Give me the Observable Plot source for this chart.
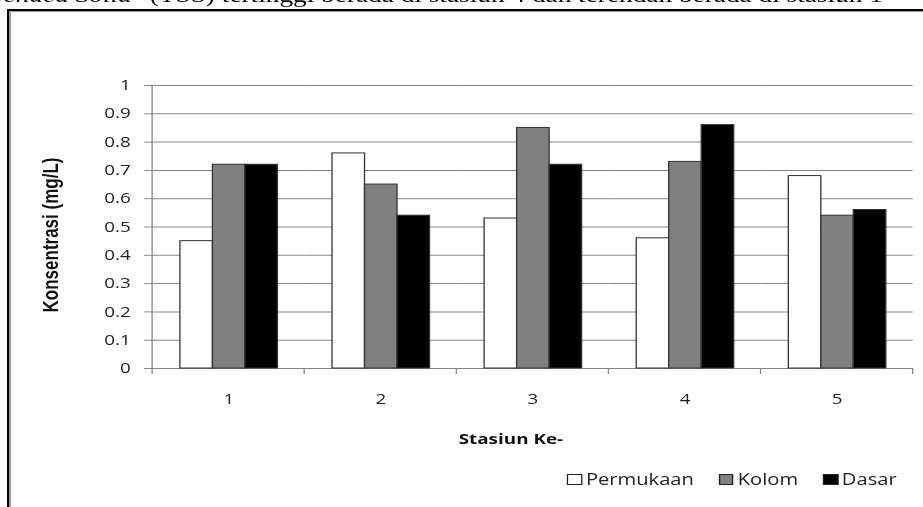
<!DOCTYPE html>
<html>
<head>
<meta charset="utf-8">
<script src="https://cdn.jsdelivr.net/npm/d3@7"></script>
<script src="https://cdn.jsdelivr.net/npm/@observablehq/plot@0.6"></script>
<style>
  html, body { margin: 0; padding: 0; background: #fff; }
  body { width: 923px; height: 507px; overflow: hidden; position: relative; }
  #stage { position: absolute; left: 0; top: 0; width: 710px; height: 507px;
           transform: scaleX(1.3); transform-origin: 0 0; }
  #doc { position: absolute; top: -15px; left: 0; white-space: nowrap;
         font: 21px/21px "Liberation Serif", serif; color: #000; }
  #chart { position: absolute; left: 0; top: 0; }
  #ylabel { position: absolute; left: 38.5px; top: 235px; white-space: nowrap;
            font: bold 17px/17px "Liberation Sans", sans-serif;
            color: #111; transform: translate(-50%, -50%) rotate(-90deg); }
  #xtitle { position: absolute; left: 393px; top: 432px; white-space: nowrap;
            font: bold 14.5px/14.5px "Open Sans", sans-serif; color: #111;
            transform: translateX(-50%); }
  #legend { position: absolute; left: 436.2px; top: 472px; display: flex; align-items: center;
            font: 15.5px/15.5px "Open Sans", sans-serif; color: #222; white-space: nowrap; }
  .item { display: flex; align-items: center; margin-right: 19.2px; }
  .item:last-child { margin-right: 0; }
  .sw { width: 9.5px; height: 9px; border: 1px solid #222; margin-right: 3px; box-sizing: content-box; }
  .frame1 { position: absolute; left: 7px; top: 9px; width: 2000px; height: 2000px;
            border-left: 2px solid #000; border-top: 2px solid #000; }
  .frame2 { position: absolute; left: 9px; top: 11px; width: 2000px; height: 2000px;
            border-left: 2px solid #9a9a9a; border-top: 1px solid #9a9a9a; }
</style>
</head>
<body>
<div id="stage">
  <div id="doc">Total <i>Suspended Solid</i>" <span id="tss">(TSS)</span> tertinggi berada di stasiun 4 dan terendah berada di stasiun 1</div>
  <div id="chart"></div>
  <div id="ylabel">Konsentrasi (mg/L)</div>
  <div id="xtitle">Stasiun Ke-</div>
  <div id="legend"></div>
</div>
<div class="frame1"></div>
<div class="frame2"></div>
<script>
// TSS concentration (mg/L) per station, for three water depths
const stations = ["1", "2", "3", "4", "5"];
const series = ["Permukaan", "Kolom", "Dasar"];
const permukaan = [0.45, 0.76, 0.53, 0.46, 0.68];
const kolom = [0.72, 0.65, 0.85, 0.73, 0.54];
const dasar = [0.72, 0.54, 0.72, 0.86, 0.56];
const yTicks = [0, 0.1, 0.2, 0.3, 0.4, 0.5, 0.6, 0.7, 0.8, 0.9, 1];
const yTickLabels = ["0", "0.1", "0.2", "0.3", "0.4", "0.5", "0.6", "0.7", "0.8", "0.9", "1"];

const seriesFill = ["#ffffff", "#808080", "#000000"];
const gridColor = "#868686";

const valuesBySeries = [permukaan, kolom, dasar];
const rows = stations.flatMap((station, i) =>
  series.map((name, k) => ({station, series: name, value: valuesBySeries[k][i]}))
);

const chart = Plot.plot({
  width: 710,
  height: 420,
  marginLeft: 114.6,
  marginRight: 6.2,
  marginTop: 85,
  marginBottom: 52,
  style: {fontFamily: "'Open Sans', sans-serif", fontSize: "14.5px", color: "#222", background: "transparent", overflow: "visible"},
  fx: {domain: stations, padding: 0, label: null, tickSize: 0, tickPadding: 25},
  x: {domain: series, axis: null, paddingInner: 0, paddingOuter: 0.786},
  y: {
    domain: [0, 1],
    ticks: yTicks,
    tickFormat: d => yTickLabels[yTicks.findIndex(t => Math.abs(t - d) < 1e-9)],
    tickSize: 6.15,
    tickPadding: 10.8,
    label: null
  },
  color: {domain: series, range: seriesFill},
  marks: [
    Plot.gridY(yTicks, {stroke: gridColor, strokeOpacity: 1}),
    Plot.ruleY([0], {stroke: gridColor}),
    Plot.barY(rows, {fx: "station", x: "series", y: "value", fill: "series", stroke: "#333", strokeWidth: 1, inset: 0})
  ]
});
document.getElementById("chart").appendChild(chart);

// grey y tick marks, y axis line and category boundary ticks on the x axis
const svg = d3.select(chart);
svg.selectAll('g[aria-label="y-axis tick"] path, g[aria-label="y-axis tick"]').attr("stroke", gridColor);
const fx = chart.scale("fx");
const y = chart.scale("y");
const y0 = y.apply(0), y1 = y.apply(1);
const x0 = fx.apply(stations[0]);
const g = svg.append("g").attr("stroke", gridColor).attr("fill", "none");
g.append("line").attr("x1", x0).attr("x2", x0).attr("y1", y1).attr("y2", y0);
const edges = stations.map(s => fx.apply(s)).concat([fx.apply(stations[stations.length - 1]) + fx.bandwidth]);
edges.forEach(x => g.append("line").attr("x1", x).attr("x2", x).attr("y1", y0).attr("y2", y0 + 6));

// legend
const legend = document.getElementById("legend");
series.forEach((name, k) => {
  const item = document.createElement("div");
  item.className = "item";
  const sw = document.createElement("span");
  sw.className = "sw";
  sw.style.background = seriesFill[k];
  const label = document.createElement("span");
  label.textContent = name;
  item.appendChild(sw);
  item.appendChild(label);
  legend.appendChild(item);
});

// place the running text line so that "(TSS)" sits at its column
const doc = document.getElementById("doc");
doc.style.left = (115 - document.getElementById("tss").offsetLeft) + "px";
</script>
</body>
</html>
